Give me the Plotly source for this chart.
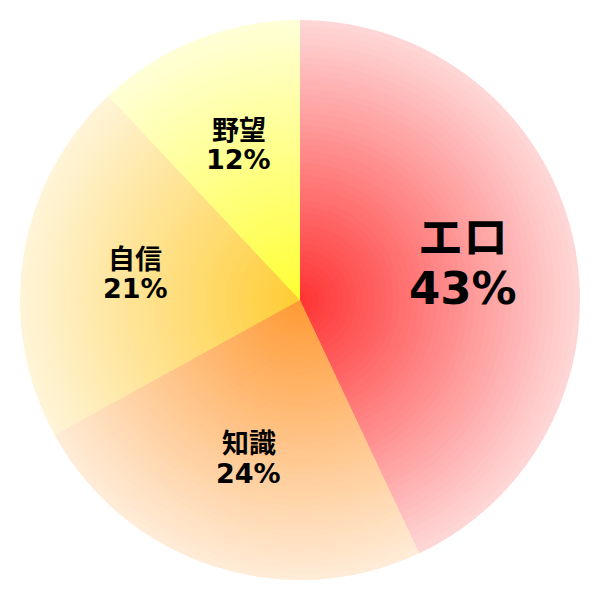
import plotly.graph_objects as go
import math

labels = ['エロ', '知識', '自信', '野望']
values = [43, 24, 21, 12]
inner_colors = ['#ff3333', '#ff9933', '#ffcc33', '#ffff33']
outer_colors = ['#ffd8d8', '#ffecd8', '#fff4d8', '#ffffd8']
font_sizes = [45, 27, 27, 27]


def mix(c1, c2, t):
    a = [int(c1[i:i + 2], 16) for i in (1, 3, 5)]
    b = [int(c2[i:i + 2], 16) for i in (1, 3, 5)]
    return 'rgb(%d,%d,%d)' % tuple(round(a[j] + (b[j] - a[j]) * t) for j in range(3))


W = 600
R = 280 / W  # pie radius in paper units
N = 45  # rings used to fake the radial gradient

fig = go.Figure()
for k in range(N, 0, -1):
    t = (k - 0.5) / N
    h = R * k / N
    fig.add_trace(go.Pie(
        values=values, labels=labels, sort=False, direction='clockwise', rotation=0,
        marker=dict(colors=[mix(ci, co, t) for ci, co in zip(inner_colors, outer_colors)],
                    line=dict(width=0)),
        textinfo='none', hoverinfo='skip', showlegend=False,
        domain=dict(x=[0.5 - h, 0.5 + h], y=[0.5 - h, 0.5 + h]),
    ))

# labels sit at ~0.6 of the radius, at each slice's middle angle
total = sum(values)
start = 0
for lab, v, fs in zip(labels, values, font_sizes):
    mid = (start + v / 2) / total * 2 * math.pi
    start += v
    r = 0.595 * R
    x = 0.5 + r * math.sin(mid)
    y = 0.5 + r * math.cos(mid)
    font = dict(family='DejaVu Sans, Noto Sans CJK JP', size=fs, color='black', weight='bold')
    for txt, shift in [(lab, 0.55 * fs), (f'{round(v / total * 100)}%', -0.55 * fs)]:
        fig.add_annotation(x=x, y=y, xref='paper', yref='paper', showarrow=False,
                           xanchor='center', yanchor='middle', yshift=shift,
                           text=txt, font=font)

fig.update_layout(width=600, height=600, margin=dict(l=0, r=0, t=0, b=0),
                  paper_bgcolor='white', plot_bgcolor='white')
fig.write_html('out.html', config={'displayModeBar': False},
               post_script="document.body.style.margin='0';")
